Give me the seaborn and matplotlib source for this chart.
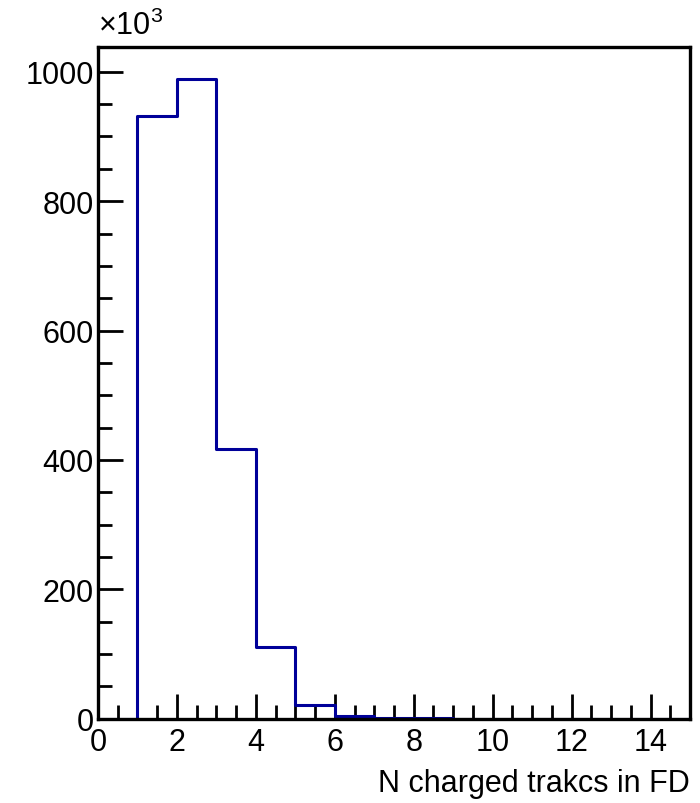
import numpy as np
import pandas as pd
import seaborn as sns
import matplotlib.pyplot as plt
from matplotlib.ticker import MultipleLocator

# histogram content, in units of 10^3 entries, one bin per track count
bin_edges = list(range(0, 16))
bin_left = list(range(0, 15))
counts_k = [0, 931, 989, 417, 110, 21, 4.3, 0.8, 0.15, 0.02, 0, 0, 0, 0, 0]

x_label = "N charged trakcs in FD"
y_ticks = [0, 200, 400, 600, 800, 1000]
x_ticks = [0, 2, 4, 6, 8, 10, 12, 14]

sns.set_style("white")
plt.rcParams["font.family"] = ["Liberation Sans", "DejaVu Sans"]
plt.rcParams["mathtext.fontset"] = "custom"
plt.rcParams["mathtext.rm"] = "Liberation Sans"
plt.rcParams["mathtext.it"] = "Liberation Sans"
plt.rcParams["text.color"] = "black"
plt.rcParams["axes.labelcolor"] = "black"

df = pd.DataFrame({"x": [b + 0.5 for b in bin_left], "w": counts_k})

fig = plt.figure(figsize=(7, 8.04), dpi=100)
ax = fig.add_axes([0.14, 0.105, 0.8457, 0.835])

sns.histplot(data=df, x="x", weights="w", bins=bin_edges, element="step",
             fill=False, color="#000099", linewidth=2.2, ax=ax)

ax.set_xlim(0, 15)
ax.set_ylim(0, 1038)
ax.set_xticks(x_ticks)
ax.set_yticks(y_ticks)
ax.xaxis.set_minor_locator(MultipleLocator(0.5))
ax.yaxis.set_minor_locator(MultipleLocator(50))
ax.tick_params(which="both", direction="in", bottom=True, left=True,
               top=False, right=False, labelsize=22, width=2, colors="black")
ax.tick_params(which="major", length=18)
ax.tick_params(which="minor", length=10)
ax.tick_params(axis="x", pad=6)
ax.tick_params(axis="y", pad=3)
for s in ax.spines.values():
    s.set_linewidth(2.4)
    s.set_color("black")

ax.set_ylabel("")
ax.set_xlabel(x_label, fontsize=22, loc="right", labelpad=8, color="black")
ax.text(0.0, 1.01, r"$\times10^{3}$", transform=ax.transAxes, fontsize=22,
        ha="left", va="bottom", color="black")

fig.savefig("out.png", dpi=100, facecolor="white")
